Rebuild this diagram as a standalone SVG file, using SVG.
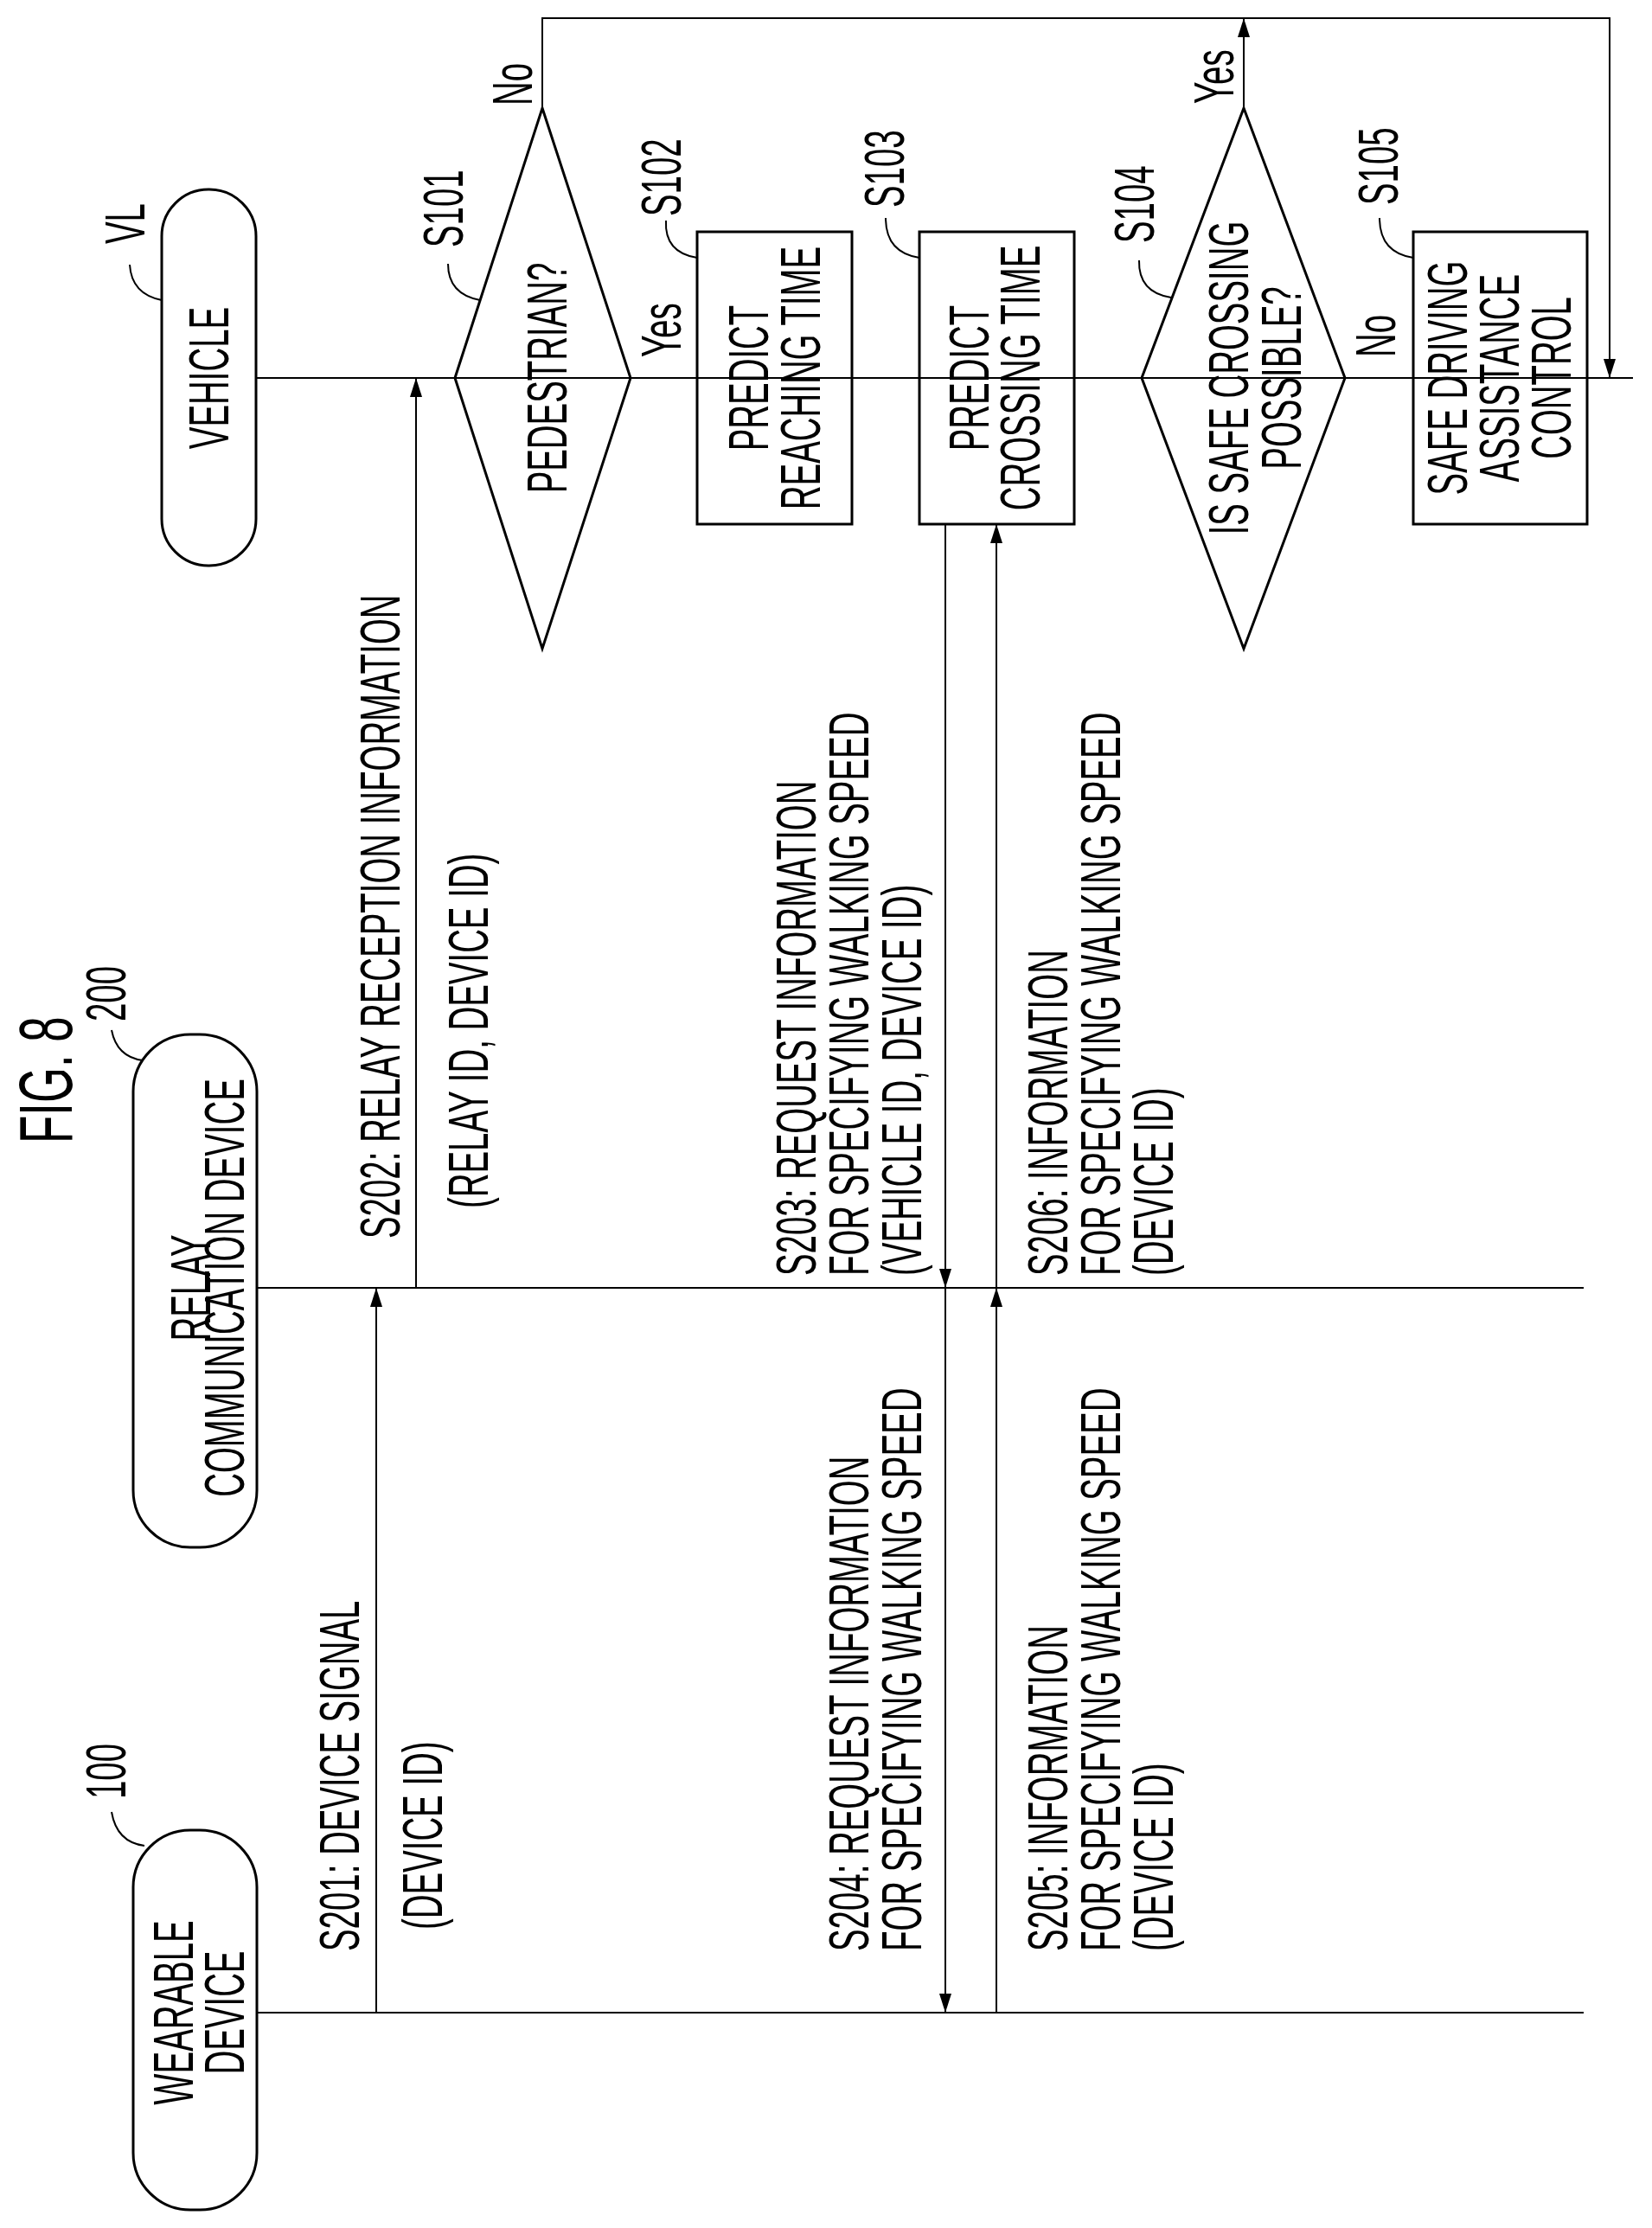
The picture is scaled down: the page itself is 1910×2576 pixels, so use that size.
<svg xmlns="http://www.w3.org/2000/svg" width="1910" height="2576" viewBox="0 0 1910 2576">
<style>
.t{font-family:"Liberation Sans",Arial,sans-serif;font-size:64px;fill:#000}
.m{text-anchor:middle}
.s{fill:none;stroke:#000;stroke-width:3}
.l{fill:none;stroke:#000;stroke-width:2}
</style>
<defs>
<marker id="a" viewBox="0 0 10 10" refX="10" refY="5" markerWidth="8" markerHeight="10" markerUnits="userSpaceOnUse" orient="auto" style="overflow:visible">
<path d="M0,0 L10,5 L0,10 z" fill="#000" transform="scale(2.2,1.4) translate(-5.5,-1.4)"/>
</marker>
<marker id="b" viewBox="0 0 22 14" refX="22" refY="7" markerWidth="22" markerHeight="14" markerUnits="userSpaceOnUse" orient="auto">
<path d="M0,0 L22,7 L0,14 z" fill="#000"/>
</marker>
</defs>
<rect width="1910" height="2576" fill="#fff"/>
<text class="t" style="font-size:88px" transform="translate(83,1322) rotate(-90) scale(0.6,1)">FIG. 8</text>

<g id="connectors">
<line class="l" x1="296" y1="437" x2="1888" y2="437"/>
<line class="l" x1="297" y1="1489" x2="1831" y2="1489"/>
<line class="l" x1="297" y1="2327" x2="1831" y2="2327"/>
<polyline class="l" points="627,125 627,21 1861,21 1861,437" marker-end="url(#b)"/>
<line class="l" x1="1438" y1="125" x2="1438" y2="21" marker-end="url(#b)"/>
<line class="l" x1="435" y1="2327" x2="435" y2="1489" marker-end="url(#b)"/>
<line class="l" x1="481" y1="1489" x2="481" y2="437" marker-end="url(#b)"/>
<line class="l" x1="1093" y1="606" x2="1093" y2="1489" marker-end="url(#b)"/>
<line class="l" x1="1093" y1="1489" x2="1093" y2="2327" marker-end="url(#b)"/>
<line class="l" x1="1152" y1="2327" x2="1152" y2="1489" marker-end="url(#b)"/>
<line class="l" x1="1152" y1="1489" x2="1152" y2="606" marker-end="url(#b)"/>
<text class="t" transform="translate(615,122) rotate(-90) scale(0.6,1)">No</text>
<text class="t" transform="translate(787,413) rotate(-90) scale(0.6,1)">Yes</text>
<text class="t" transform="translate(1426,120) rotate(-90) scale(0.6,1)">Yes</text>
<text class="t" transform="translate(1613,413) rotate(-90) scale(0.6,1)">No</text>
<text class="t" transform="translate(415,2256) rotate(-90) scale(0.6,1)">S201: DEVICE SIGNAL</text>
<text class="t" transform="translate(511,2231) rotate(-90) scale(0.6,1)">(DEVICE ID)</text>
<text class="t" transform="translate(462,1432) rotate(-90) scale(0.6,1)">S202: RELAY RECEPTION INFORMATION</text>
<text class="t" transform="translate(564,1397) rotate(-90) scale(0.6,1)">(RELAY ID, DEVICE ID)</text>
<text class="t" transform="translate(943,1475) rotate(-90) scale(0.6,1)">S203: REQUEST INFORMATION</text>
<text class="t" transform="translate(1004,1475) rotate(-90) scale(0.6,1)">FOR SPECIFYING WALKING SPEED</text>
<text class="t" transform="translate(1065,1475) rotate(-90) scale(0.6,1)">(VEHICLE ID, DEVICE ID)</text>
<text class="t" transform="translate(1004,2256) rotate(-90) scale(0.6,1)">S204: REQUEST INFORMATION</text>
<text class="t" transform="translate(1065,2256) rotate(-90) scale(0.6,1)">FOR SPECIFYING WALKING SPEED</text>
<text class="t" transform="translate(1234,2256) rotate(-90) scale(0.6,1)">S205: INFORMATION</text>
<text class="t" transform="translate(1295,2256) rotate(-90) scale(0.6,1)">FOR SPECIFYING WALKING SPEED</text>
<text class="t" transform="translate(1356,2256) rotate(-90) scale(0.6,1)">(DEVICE ID)</text>
<text class="t" transform="translate(1234,1475) rotate(-90) scale(0.6,1)">S206: INFORMATION</text>
<text class="t" transform="translate(1295,1475) rotate(-90) scale(0.6,1)">FOR SPECIFYING WALKING SPEED</text>
<text class="t" transform="translate(1356,1475) rotate(-90) scale(0.6,1)">(DEVICE ID)</text>
</g>

<g id="vehicle">
<rect class="s" x="187" y="219" width="109" height="435" rx="54"/>
<text class="t m" transform="translate(264,437) rotate(-90) scale(0.6,1)">VEHICLE</text>
<text class="t" transform="translate(167,282) rotate(-90) scale(0.6,1)">VL</text>
<path class="l" d="M150 306 Q152 340 187 347"/>
</g>
<g id="relay">
<rect class="s" x="154" y="1196" width="143" height="593" rx="66"/>
<text class="t m" transform="translate(243,1489) rotate(-90) scale(0.6,1)">RELAY</text>
<text class="t m" transform="translate(282,1489) rotate(-90) scale(0.6,1)">COMMUNICATION DEVICE</text>
<text class="t" transform="translate(145,1181) rotate(-90) scale(0.6,1)">200</text>
<path class="l" d="M129 1191 Q135 1222 165 1226"/>
</g>
<g id="wearable">
<rect class="s" x="154" y="2116" width="143" height="439" rx="66"/>
<text class="t m" transform="translate(223,2327) rotate(-90) scale(0.6,1)">WEARABLE</text>
<text class="t m" transform="translate(282,2327) rotate(-90) scale(0.6,1)">DEVICE</text>
<text class="t" transform="translate(145,2080) rotate(-90) scale(0.6,1)">100</text>
<path class="l" d="M129 2095 Q135 2130 167 2134"/>
</g>
<g id="s101">
<polygon class="s" points="627,125 729,437 627,750 526,437"/>
<text class="t m" transform="translate(655,437) rotate(-90) scale(0.6,1)">PEDESTRIAN?</text>
<text class="t" transform="translate(535,286) rotate(-90) scale(0.6,1)">S101</text>
<path class="l" d="M518 305 Q518 340 555 347"/>
</g>
<g id="s102">
<rect class="s" x="806" y="268" width="179" height="338"/>
<text class="t m" transform="translate(888,437) rotate(-90) scale(0.6,1)">PREDICT</text>
<text class="t m" transform="translate(948,437) rotate(-90) scale(0.6,1)">REACHING TIME</text>
<text class="t" transform="translate(787,250) rotate(-90) scale(0.6,1)">S102</text>
<path class="l" d="M770 255 Q768 292 806 298"/>
</g>
<g id="s103">
<rect class="s" x="1063" y="268" width="179" height="338"/>
<text class="t m" transform="translate(1143,437) rotate(-90) scale(0.6,1)">PREDICT</text>
<text class="t m" transform="translate(1202,437) rotate(-90) scale(0.6,1)">CROSSING TIME</text>
<text class="t" transform="translate(1045,240) rotate(-90) scale(0.6,1)">S103</text>
<path class="l" d="M1024 252 Q1024 292 1063 298"/>
</g>
<g id="s104">
<polygon class="s" points="1438,125 1555,437 1438,750 1320,437"/>
<text class="t m" transform="translate(1443,437) rotate(-90) scale(0.6,1)">IS SAFE CROSSING</text>
<text class="t m" transform="translate(1504,437) rotate(-90) scale(0.6,1)">POSSIBLE?</text>
<text class="t" transform="translate(1334,281) rotate(-90) scale(0.6,1)">S104</text>
<path class="l" d="M1317 301 Q1316 338 1354 344"/>
</g>
<g id="s105">
<rect class="s" x="1634" y="268" width="201" height="338"/>
<text class="t m" transform="translate(1696,437) rotate(-90) scale(0.6,1)">SAFE DRIVING</text>
<text class="t m" transform="translate(1756,437) rotate(-90) scale(0.6,1)">ASSISTANCE</text>
<text class="t m" transform="translate(1816,437) rotate(-90) scale(0.6,1)">CONTROL</text>
<text class="t" transform="translate(1616,237) rotate(-90) scale(0.6,1)">S105</text>
<path class="l" d="M1595 252 Q1595 292 1634 298"/>
</g>
</svg>
